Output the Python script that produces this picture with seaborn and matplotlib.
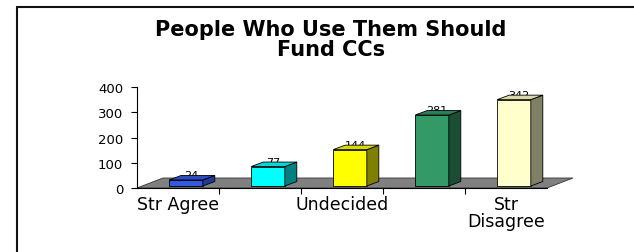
import numpy as np
import pandas as pd
import matplotlib
matplotlib.use("Agg")
import matplotlib.pyplot as plt
from matplotlib.patches import Polygon
from matplotlib.lines import Line2D
from matplotlib.transforms import IdentityTransform
import seaborn as sns

# data
categories = ["Str Agree", "Agree", "Undecided", "Disagree", "Str Disagree"]
values = [24, 77, 144, 281, 342]
tick_labels = ["Str Agree", "", "Undecided", "", "Str\nDisagree"]
front_colors = ["#3359E0", "#00FFFF", "#FFFF00", "#339966", "#FFFFCC"]
side_colors = ["#1F3A9A", "#008080", "#808000", "#1B4D35", "#808066"]
top_colors = ["#2C4CC4", "#00D8D8", "#D8D800", "#2A7F55", "#D8D8A8"]

df = pd.DataFrame({"response": categories, "count": values})

sns.set_style("white")
plt.rcParams["font.family"] = ["DejaVu Sans"]
plt.rcParams["text.color"] = "black"
plt.rcParams["xtick.color"] = "black"
plt.rcParams["ytick.color"] = "black"

W, H = 634, 253
fig = plt.figure(figsize=(W / 100, H / 100), dpi=100)
ax = fig.add_axes([137 / W, (H - 189) / H, 410 / W, 101 / H])

sns.barplot(data=df, x="response", y="count", hue="response", palette=front_colors,
            legend=False, width=0.41, edgecolor="black", linewidth=0.6, ax=ax, zorder=3)

ax.set_xlim(-0.5, 4.5)
ax.set_ylim(0, 400)
ax.set_yticks([0, 100, 200, 300, 400])
ax.set_xticks(range(5))
ax.set_xticklabels(tick_labels)
ax.set_xticks([0.5, 1.5, 2.5, 3.5], minor=True)
ax.set_xlabel("")
ax.set_ylabel("")

for s in ["top", "right"]:
    ax.spines[s].set_visible(False)
for s in ["left", "bottom"]:
    ax.spines[s].set_color("black")
    ax.spines[s].set_linewidth(0.8)
    ax.spines[s].set_zorder(4)

ax.tick_params(axis="y", which="major", left=True, length=4, width=0.8, pad=6,
               labelsize=9.5, colors="black")
ax.tick_params(axis="x", which="major", bottom=False, length=0, pad=5, labelsize=12.5,
               labelcolor="black")
ax.tick_params(axis="x", which="minor", bottom=True, length=4, width=0.8, color="black")
for lab in ax.get_xticklabels():
    lab.set_linespacing(0.9)

# floor of the 3D chart (depth offset in pixels)
floor_dx, floor_dy = 26, 10
fdx = floor_dx / 410
fdy = floor_dy / 101
floor = Polygon([(0, 0), (1, 0), (1 + fdx, fdy), (fdx, fdy)], closed=True,
                transform=ax.transAxes, facecolor="#808080", edgecolor="#333333",
                linewidth=0.6, clip_on=False, zorder=1)
ax.add_patch(floor)

# bars sit a bit into the floor; side and top faces add depth
shift_x, shift_y = 8, 2
depth_x, depth_y = 12, 4.5
to_px = ax.transData.transform
for i, p in enumerate(ax.patches[:len(values)]):
    x0 = p.get_x()
    x1 = x0 + p.get_width()
    h = p.get_height()
    (ax0, ay0) = to_px((x0, 0))
    (ax1, ay1) = to_px((x1, h))
    ax0 += shift_x; ax1 += shift_x
    ay0 += shift_y; ay1 += shift_y
    front = Polygon([(ax0, ay0), (ax1, ay0), (ax1, ay1), (ax0, ay1)], closed=True,
                    transform=IdentityTransform(), facecolor=front_colors[i],
                    edgecolor="black", linewidth=0.6, zorder=3)
    side = Polygon([(ax1, ay0), (ax1 + depth_x, ay0 + depth_y),
                    (ax1 + depth_x, ay1 + depth_y), (ax1, ay1)], closed=True,
                   transform=IdentityTransform(), facecolor=side_colors[i],
                   edgecolor="black", linewidth=0.6, zorder=3)
    top = Polygon([(ax0, ay1), (ax1, ay1), (ax1 + depth_x, ay1 + depth_y),
                   (ax0 + depth_x, ay1 + depth_y)], closed=True,
                  transform=IdentityTransform(), facecolor=top_colors[i],
                  edgecolor="black", linewidth=0.6, zorder=3)
    p.set_visible(False)
    for poly in (front, side, top):
        poly.set_clip_on(False)
        fig.add_artist(poly)
    ax.annotate(str(values[i]), xy=(x0 + p.get_width() / 2, h),
                xytext=(shift_x + 5, shift_y + 5), textcoords="offset pixels",
                ha="center", va="center", fontsize=8, color="black", zorder=6,
                annotation_clip=False)

# title
fig.text(331 / W, 1 - 40 / H, "People Who Use Them Should\nFund CCs", ha="center",
         va="center", fontsize=15, fontweight="bold", linespacing=1.0, color="black")

# outer frame (only left and top visible in the crop)
fig.add_artist(Line2D([17 / W, 17 / W], [0, 1 - 8 / H], transform=fig.transFigure,
                      color="#111111", linewidth=1.5))
fig.add_artist(Line2D([17 / W, 1], [1 - 8 / H, 1 - 8 / H], transform=fig.transFigure,
                      color="#111111", linewidth=1.5))

fig.savefig("out.png", dpi=100)
